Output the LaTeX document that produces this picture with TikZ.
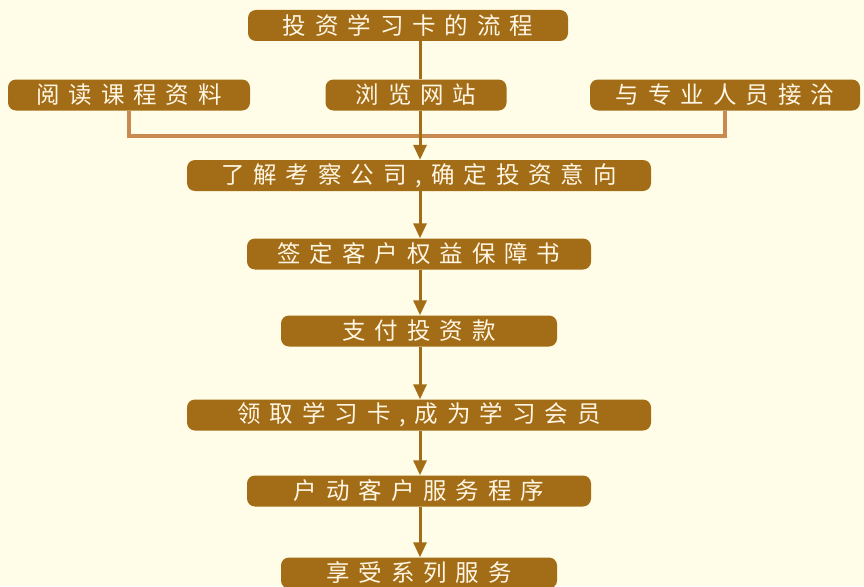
\documentclass[tikz,border=0pt]{standalone}
\usepackage{fontspec}
\usetikzlibrary{arrows.meta}
\newfontfamily\cjk[LetterSpace=38]{Noto Sans CJK SC}
\definecolor{bgc}{HTML}{FFFDE7}
\definecolor{boxc}{HTML}{A36C16}
\definecolor{linec}{HTML}{C98A50}
\definecolor{txtc}{HTML}{FFF6E4}
\tikzset{
  fbox/.style={draw=none, fill=boxc, rounded corners=8pt, minimum height=31pt,
    inner sep=0pt, text=txtc, font=\cjk\fontsize{23.5pt}{24pt}\selectfont},
  darkline/.style={draw=boxc, line width=3pt},
  lightline/.style={draw=linec, line width=3.2pt},
  arr/.style={darkline, -{Triangle[width=13pt,length=15pt]}}
}
\begin{document}
\begin{tikzpicture}[x=1pt,y=-1pt]
\fill[bgc] (0,0) rectangle (864,586);
\useasboundingbox (0,0) rectangle (864,586);
\coordinate (ax) at (420,0);
\coordinate (j) at (420,136);
\node[fbox, minimum width=320pt] (t) at (408,25.5) {投资学习卡的流程};
\node[fbox, minimum width=242pt] (a) at (129,95) {阅读课程资料};
\node[fbox, minimum width=181pt] (b) at (416,95) {浏览网站};
\node[fbox, minimum width=270pt] (c) at (725,95) {与专业人员接洽};
\node[fbox, minimum width=464pt] (s3) at (419,175.5) {了解考察公司,确定投资意向};
\node[fbox, minimum width=344pt] (s4) at (419,254) {签定客户权益保障书};
\node[fbox, minimum width=276pt] (s5) at (419,331) {支付投资款};
\node[fbox, minimum width=464pt] (s6) at (419,415) {领取学习卡,成为学习会员};
\node[fbox, minimum width=344pt] (s7) at (419,491) {户动客户服务程序};
\node[fbox, minimum width=276pt] (s8) at (419,573) {享受系列服务};
\draw[lightline] (a.south) |- (j);
\draw[lightline] (c.south) |- (j);
\draw[darkline] (t.south -| ax) -- (b.north -| ax);
\draw[arr] (b.south -| ax) -- (s3.north -| ax);
\draw[arr] (s3.south -| ax) -- (s4.north -| ax);
\draw[arr] (s4.south -| ax) -- (s5.north -| ax);
\draw[arr] (s5.south -| ax) -- (s6.north -| ax);
\draw[arr] (s6.south -| ax) -- (s7.north -| ax);
\draw[arr] (s7.south -| ax) -- (s8.north -| ax);
\end{tikzpicture}
\end{document}
